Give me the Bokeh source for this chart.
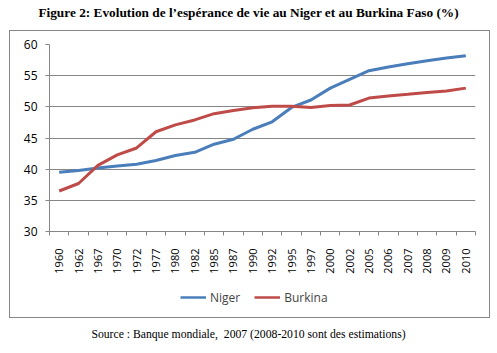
from bokeh.plotting import figure
from bokeh.models import (FixedTicker, Range1d, Legend, LegendItem, Div,
                          ColumnDataSource)
from bokeh.layouts import column
from bokeh.embed import file_html
from bokeh.resources import INLINE
import math

years = ["1960", "1962", "1967", "1970", "1972", "1977", "1980", "1982", "1985",
         "1987", "1990", "1992", "1995", "1997", "2000", "2002", "2005", "2006",
         "2007", "2008", "2009", "2010"]
niger = [39.5, 39.8, 40.2, 40.5, 40.8, 41.4, 42.2, 42.7, 44.0, 44.8, 46.4, 47.6,
         49.9, 51.1, 53.0, 54.4, 55.8, 56.4, 56.9, 57.4, 57.85, 58.2]
burkina = [36.5, 37.7, 40.6, 42.3, 43.4, 46.0, 47.1, 47.9, 48.9, 49.4, 49.85, 50.1,
           50.1, 49.9, 50.2, 50.3, 51.4, 51.75, 52.0, 52.3, 52.55, 53.0]
y_ticks = [30, 35, 40, 45, 50, 55, 60]
series_names = ["Niger", "Burkina"]
series_colors = ["#4A7EBB", "#BE4B48"]
title_text = "Figure 2: Evolution de l\u2019esp\u00e9rance de vie au Niger et au Burkina Faso (%)"
source_text = "Source : Banque mondiale,&nbsp; 2007 (2008-2010 sont des estimations)"

xs = list(range(len(years)))
src = ColumnDataSource(dict(x=xs, niger=niger, burkina=burkina))

grey = "#868686"

p = figure(width=479, height=245, output_backend="svg", toolbar_location=None,
           x_range=Range1d(-0.5, len(years) - 0.5), y_range=Range1d(30, 60),
           min_border_left=39, min_border_right=14, min_border_top=13,
           min_border_bottom=45, margin=0)
p.outline_line_color = None

p.xgrid.visible = False
p.ygrid.ticker = FixedTicker(ticks=y_ticks)
p.ygrid.grid_line_color = grey
p.ygrid.grid_line_width = 1

p.yaxis.ticker = FixedTicker(ticks=y_ticks)
p.yaxis.axis_line_color = grey
p.yaxis.major_tick_line_color = grey
p.yaxis.major_tick_out = 4
p.yaxis.major_tick_in = 0
p.yaxis.minor_tick_line_color = None
p.yaxis.major_label_text_font = "Open Sans"
p.yaxis.major_label_text_font_size = "12px"
p.yaxis.major_label_text_color = "black"
p.yaxis.major_label_standoff = 8

p.xaxis.ticker = FixedTicker(ticks=xs, minor_ticks=[i - 0.5 for i in range(len(years) + 1)])
p.xaxis.major_label_overrides = {i: y for i, y in enumerate(years)}
p.xaxis.axis_line_color = grey
p.xaxis.major_tick_line_color = None
p.xaxis.minor_tick_line_color = grey
p.xaxis.minor_tick_out = 4
p.xaxis.minor_tick_in = 0
p.xaxis.major_label_orientation = math.pi / 2
p.xaxis.major_label_text_font = "Open Sans"
p.xaxis.major_label_text_font_size = "11px"
p.xaxis.major_label_text_color = "black"
p.xaxis.major_label_standoff = 11

p.line("x", "niger", source=src, line_color=series_colors[0], line_width=3)
p.line("x", "burkina", source=src, line_color=series_colors[1], line_width=3)

# legend strip below the plot, inside the bordered chart area
leg = figure(width=479, height=41, output_backend="svg", toolbar_location=None,
             x_range=Range1d(0, 1), y_range=Range1d(0, 1), min_border=0, margin=0)
leg.axis.visible = False
leg.grid.visible = False
leg.outline_line_color = None
items = []
for name, col in zip(series_names, series_colors):
    r = leg.line([-10, -9], [-10, -10], line_color=col, line_width=2.5)
    items.append(LegendItem(label=name, renderers=[r]))
legend = Legend(items=items, orientation="horizontal", location=(131, 10),
                label_text_font="Open Sans", label_text_font_size="12px",
                glyph_width=26, glyph_height=20, spacing=14, label_standoff=4,
                margin=0, padding=0, border_line_color=None,
                background_fill_alpha=0)
leg.add_layout(legend, "center")

box = column(p, leg, spacing=0, margin=(0, 0, 0, 9),
             styles={"border": "1px solid " + grey})

title_div = Div(text=title_text, width=497, height=30, margin=0,
                styles={"font-family": "Liberation Serif", "font-weight": "bold",
                        "font-size": "13.3px", "text-align": "center",
                        "line-height": "26px", "color": "black"})
source_div = Div(text=source_text, width=497, height=34, margin=0,
                 styles={"font-family": "Liberation Serif", "font-size": "11.7px",
                         "text-align": "center", "line-height": "34px",
                         "color": "black"})

layout = column(title_div, box, source_div, spacing=0, margin=0)

open("out.html", "w").write(file_html(layout, INLINE))
